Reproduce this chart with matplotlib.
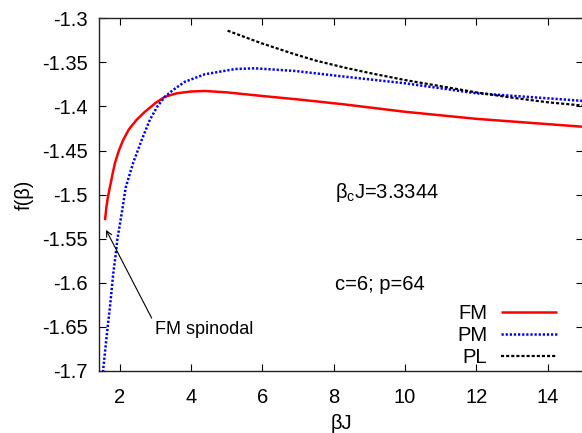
import matplotlib
matplotlib.use("Agg")
import matplotlib.pyplot as plt

plt.rcParams['font.family'] = ['Liberation Sans', 'DejaVu Sans']
plt.rcParams['mathtext.fontset'] = 'custom'
plt.rcParams['mathtext.rm'] = 'Liberation Sans'
plt.rcParams['mathtext.it'] = 'Liberation Sans'

# FM branch (red solid)
fm_x = [1.58, 1.62, 1.66, 1.72, 1.79, 1.86, 1.97, 2.09, 2.25, 2.47, 2.7, 3.0, 3.26,
        3.6, 4.0, 4.38, 5.0, 5.97, 7.0, 8.27, 10, 12, 14, 15]
fm_y = [-1.529, -1.514, -1.503, -1.491, -1.477, -1.464, -1.450, -1.438, -1.426,
        -1.415, -1.406, -1.396, -1.389, -1.385, -1.383, -1.3824, -1.384, -1.388,
        -1.392, -1.3975, -1.406, -1.414, -1.420, -1.423]

# PM branch (blue dotted)
pm_x = [1.50, 1.53, 1.62, 1.72, 1.81, 1.88, 1.93, 2.05, 2.16, 2.37, 2.61, 2.84,
        3.05, 3.26, 3.5, 3.82, 4.38, 5.23, 5.79, 6.91, 8.27, 10, 12, 14, 15]
pm_y = [-1.72, -1.698, -1.663, -1.627, -1.590, -1.568, -1.550, -1.521, -1.492,
        -1.464, -1.438, -1.415, -1.400, -1.389, -1.381, -1.372, -1.3635, -1.3575,
        -1.3567, -1.3597, -1.366, -1.3737, -1.385, -1.3907, -1.3937]

# PL branch (black dashed)
pl_x = [5.02, 5.98, 6.91, 7.5, 8.27, 9, 10, 11, 12, 13, 14, 15]
pl_y = [-1.314, -1.3284, -1.3408, -1.348, -1.3556, -1.362, -1.370, -1.377, -1.384,
        -1.390, -1.3952, -1.399]

x_ticks = [2, 4, 6, 8, 10, 12, 14]
y_ticks = [-1.7, -1.65, -1.6, -1.55, -1.5, -1.45, -1.4, -1.35, -1.3]
y_ticklabels = ['-1.7', '-1.65', '-1.6', '-1.55', '-1.5', '-1.45', '-1.4', '-1.35', '-1.3']

FS = 14.5

fig = plt.figure(figsize=(5.82, 4.33), dpi=100)
ax = fig.add_axes([0.170, 0.1432, 0.832, 0.8145])

ax.plot(fm_x, fm_y, color='#ff0000', lw=1.8, label='FM', solid_capstyle='butt')
ax.plot(pm_x, pm_y, color='#0000ff', lw=1.8, linestyle=(0, (0.9, 0.75)), label='PM')
ax.plot(pl_x, pl_y, color='black', lw=1.6, linestyle=(0, (1.4, 0.9)), label='PL')

ax.set_xlim(1.41, 15)
ax.set_ylim(-1.7, -1.3)
ax.set_xticks(x_ticks)
ax.set_yticks(y_ticks)
ax.set_yticklabels(y_ticklabels)
ax.tick_params(direction='in', top=True, right=True, length=5, width=0.8,
               labelsize=FS, colors='black')
ax.tick_params(axis='x', pad=12)
ax.tick_params(axis='y', pad=8)
for s in ax.spines.values():
    s.set_linewidth(1.0)
    s.set_color('#222222')

ax.set_xlabel('βJ', fontsize=FS, labelpad=5)
ax.set_ylabel('f(β)', fontsize=FS, labelpad=6)

ax.text(8.03, -1.498, r'$\beta_c$J=3.3344', fontsize=FS, va='center', ha='left')
ax.text(8.03, -1.6023, 'c=6; p=64', fontsize=FS, va='center', ha='left')

ax.annotate('', xy=(1.61, -1.540), xytext=(2.89, -1.640),
            arrowprops=dict(arrowstyle='->', color='black', lw=0.8,
                            shrinkA=0, shrinkB=0))
ax.text(2.98, -1.6534, 'FM spinodal', fontsize=13, ha='left', va='center')

leg = ax.legend(loc='lower right', bbox_to_anchor=(0.9465, 0.010), frameon=False,
                fontsize=FS, markerfirst=False, handlelength=2.8,
                handletextpad=0.68, labelspacing=0.15, borderaxespad=0, borderpad=0)
for t in leg.get_texts():
    t.set_ha('right')

fig.savefig('out.png', dpi=100)
